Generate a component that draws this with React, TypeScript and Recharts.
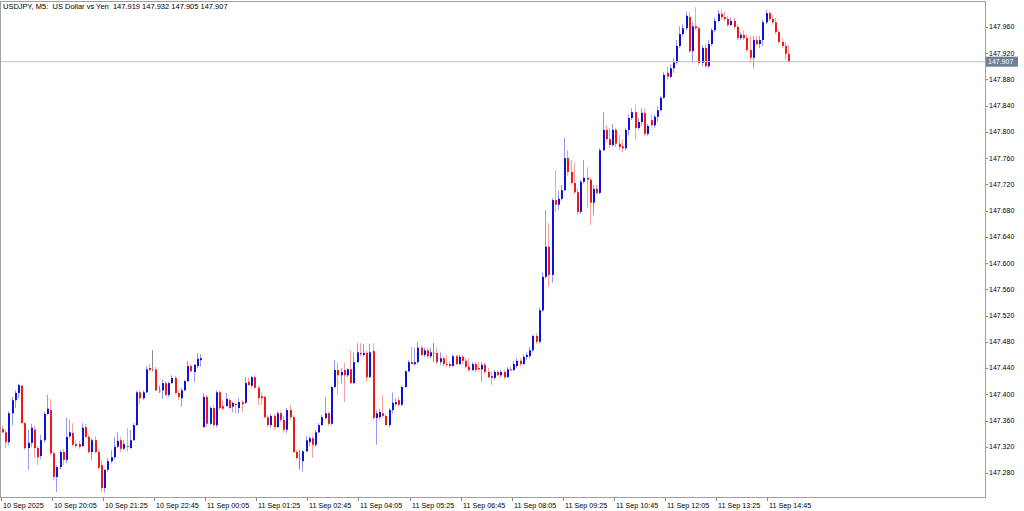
import { Bar, ComposedChart, ReferenceLine, XAxis, YAxis } from "recharts";

type Ohlc = [number, number, number, number];

// USDJPY M5, [open, high, low, close]
// 10 Sep 18:45 - 23:55
const eveningBars: Ohlc[] = [
  [147.347, 147.352, 147.341, 147.342],
  [147.342, 147.346, 147.318, 147.327],
  [147.327, 147.374, 147.323, 147.371],
  [147.371, 147.396, 147.353, 147.391],
  [147.391, 147.406, 147.379, 147.402],
  [147.402, 147.416, 147.394, 147.414],
  [147.413, 147.414, 147.355, 147.356],
  [147.356, 147.358, 147.315, 147.318],
  [147.318, 147.346, 147.285, 147.326],
  [147.326, 147.355, 147.32, 147.349],
  [147.346, 147.352, 147.303, 147.318],
  [147.318, 147.321, 147.292, 147.304],
  [147.306, 147.338, 147.301, 147.33],
  [147.33, 147.373, 147.326, 147.37],
  [147.37, 147.399, 147.368, 147.378],
  [147.376, 147.393, 147.307, 147.31],
  [147.31, 147.313, 147.269, 147.274],
  [147.274, 147.292, 147.251, 147.289],
  [147.289, 147.315, 147.285, 147.312],
  [147.312, 147.317, 147.292, 147.3],
  [147.3, 147.364, 147.295, 147.335],
  [147.336, 147.361, 147.333, 147.342],
  [147.341, 147.356, 147.321, 147.323],
  [147.324, 147.33, 147.318, 147.321],
  [147.324, 147.329, 147.317, 147.32],
  [147.321, 147.356, 147.32, 147.349],
  [147.35, 147.355, 147.333, 147.335],
  [147.335, 147.339, 147.31, 147.312],
  [147.312, 147.333, 147.3, 147.33],
  [147.33, 147.336, 147.31, 147.312],
  [147.312, 147.315, 147.285, 147.288],
  [147.292, 147.3, 147.251, 147.257],
  [147.257, 147.285, 147.25, 147.285],
  [147.285, 147.303, 147.282, 147.298],
  [147.298, 147.315, 147.295, 147.304],
  [147.304, 147.335, 147.301, 147.32],
  [147.32, 147.342, 147.318, 147.329],
  [147.33, 147.335, 147.312, 147.317],
  [147.317, 147.33, 147.315, 147.324],
  [147.321, 147.349, 147.313, 147.32],
  [147.318, 147.346, 147.317, 147.33],
  [147.33, 147.356, 147.329, 147.353],
  [147.353, 147.405, 147.352, 147.403],
  [147.403, 147.406, 147.384, 147.394],
  [147.394, 147.406, 147.391, 147.403],
  [147.403, 147.443, 147.402, 147.438],
  [147.44, 147.446, 147.434, 147.437],
  [147.438, 147.467, 147.435, 147.438],
  [147.438, 147.442, 147.405, 147.406],
  [147.406, 147.413, 147.402, 147.406],
  [147.406, 147.422, 147.393, 147.417],
  [147.417, 147.42, 147.397, 147.399],
  [147.399, 147.419, 147.396, 147.417],
  [147.417, 147.429, 147.416, 147.425],
  [147.425, 147.428, 147.4, 147.402],
  [147.402, 147.405, 147.391, 147.396],
  [147.394, 147.41, 147.381, 147.406],
  [147.406, 147.422, 147.405, 147.42],
  [147.42, 147.451, 147.419, 147.443],
  [147.443, 147.446, 147.434, 147.435],
  [147.434, 147.446, 147.419, 147.445],
  [147.443, 147.463, 147.44, 147.454],
  [147.452, 147.461, 147.442, 147.455],
];

// 11 Sep 00:00 - 05:20
const nightBars: Ohlc[] = [
  [147.35, 147.402, 147.349, 147.396],
  [147.396, 147.399, 147.35, 147.355],
  [147.355, 147.382, 147.353, 147.379],
  [147.379, 147.384, 147.349, 147.353],
  [147.353, 147.406, 147.35, 147.403],
  [147.403, 147.406, 147.376, 147.379],
  [147.382, 147.391, 147.376, 147.378],
  [147.382, 147.402, 147.381, 147.393],
  [147.391, 147.394, 147.378, 147.379],
  [147.381, 147.388, 147.373, 147.387],
  [147.385, 147.387, 147.371, 147.384],
  [147.379, 147.394, 147.371, 147.388],
  [147.388, 147.391, 147.373, 147.385],
  [147.387, 147.426, 147.385, 147.417],
  [147.419, 147.425, 147.413, 147.414],
  [147.413, 147.428, 147.411, 147.426],
  [147.426, 147.429, 147.408, 147.41],
  [147.41, 147.413, 147.384, 147.394],
  [147.397, 147.403, 147.384, 147.394],
  [147.396, 147.397, 147.364, 147.365],
  [147.365, 147.368, 147.35, 147.353],
  [147.353, 147.37, 147.349, 147.367],
  [147.367, 147.37, 147.346, 147.35],
  [147.35, 147.374, 147.349, 147.371],
  [147.371, 147.374, 147.358, 147.361],
  [147.361, 147.367, 147.342, 147.346],
  [147.346, 147.379, 147.341, 147.376],
  [147.376, 147.384, 147.361, 147.365],
  [147.365, 147.368, 147.31, 147.312],
  [147.312, 147.315, 147.3, 147.303],
  [147.303, 147.315, 147.285, 147.303],
  [147.298, 147.315, 147.282, 147.313],
  [147.313, 147.336, 147.312, 147.33],
  [147.327, 147.336, 147.32, 147.333],
  [147.333, 147.336, 147.303, 147.323],
  [147.323, 147.346, 147.32, 147.342],
  [147.342, 147.356, 147.341, 147.353],
  [147.353, 147.368, 147.352, 147.365],
  [147.364, 147.396, 147.361, 147.371],
  [147.371, 147.374, 147.352, 147.355],
  [147.355, 147.413, 147.353, 147.411],
  [147.411, 147.452, 147.41, 147.437],
  [147.437, 147.448, 147.399, 147.429],
  [147.429, 147.44, 147.417, 147.434],
  [147.437, 147.448, 147.388, 147.429],
  [147.429, 147.44, 147.426, 147.438],
  [147.438, 147.467, 147.416, 147.417],
  [147.417, 147.464, 147.416, 147.449],
  [147.449, 147.478, 147.448, 147.464],
  [147.463, 147.478, 147.458, 147.461],
  [147.46, 147.477, 147.457, 147.463],
  [147.463, 147.467, 147.419, 147.426],
  [147.426, 147.477, 147.425, 147.464],
  [147.466, 147.478, 147.361, 147.364],
  [147.364, 147.376, 147.323, 147.371],
  [147.365, 147.378, 147.362, 147.373],
  [147.371, 147.399, 147.364, 147.367],
  [147.367, 147.37, 147.352, 147.353],
  [147.353, 147.379, 147.35, 147.376],
  [147.376, 147.403, 147.371, 147.387],
  [147.385, 147.394, 147.382, 147.388],
  [147.391, 147.396, 147.381, 147.384],
  [147.384, 147.413, 147.382, 147.411],
  [147.411, 147.437, 147.41, 147.435],
  [147.435, 147.452, 147.434, 147.449],
];

// 11 Sep 05:25 - 08:30
const morningBars: Ohlc[] = [
  [147.449, 147.472, 147.446, 147.446],
  [147.446, 147.471, 147.443, 147.449],
  [147.449, 147.48, 147.446, 147.471],
  [147.471, 147.474, 147.458, 147.46],
  [147.46, 147.471, 147.457, 147.467],
  [147.467, 147.471, 147.455, 147.458],
  [147.458, 147.471, 147.455, 147.464],
  [147.463, 147.478, 147.449, 147.463],
  [147.463, 147.471, 147.446, 147.449],
  [147.449, 147.464, 147.445, 147.455],
  [147.455, 147.458, 147.443, 147.446],
  [147.446, 147.46, 147.442, 147.445],
  [147.446, 147.449, 147.44, 147.443],
  [147.443, 147.461, 147.442, 147.458],
  [147.458, 147.46, 147.445, 147.446],
  [147.446, 147.46, 147.445, 147.457],
  [147.457, 147.46, 147.446, 147.451],
  [147.451, 147.455, 147.44, 147.442],
  [147.442, 147.455, 147.434, 147.437],
  [147.437, 147.449, 147.435, 147.446],
  [147.446, 147.449, 147.434, 147.437],
  [147.44, 147.449, 147.437, 147.438],
  [147.438, 147.449, 147.419, 147.445],
  [147.445, 147.449, 147.431, 147.434],
  [147.434, 147.44, 147.425, 147.426],
  [147.428, 147.434, 147.414, 147.425],
  [147.425, 147.437, 147.422, 147.434],
  [147.434, 147.437, 147.428, 147.429],
  [147.429, 147.437, 147.426, 147.434],
  [147.434, 147.437, 147.423, 147.426],
  [147.426, 147.442, 147.425, 147.438],
  [147.438, 147.443, 147.435, 147.437],
  [147.437, 147.451, 147.435, 147.446],
  [147.443, 147.455, 147.44, 147.451],
  [147.451, 147.455, 147.443, 147.446],
  [147.446, 147.46, 147.445, 147.457],
  [147.457, 147.464, 147.452, 147.46],
  [147.458, 147.472, 147.455, 147.467],
];

// 11 Sep 08:35 - 12:15
const rallyBars: Ohlc[] = [
  [147.467, 147.49, 147.464, 147.489],
  [147.489, 147.493, 147.477, 147.48],
  [147.48, 147.532, 147.477, 147.528],
  [147.528, 147.586, 147.525, 147.579],
  [147.579, 147.681, 147.576, 147.625],
  [147.625, 147.661, 147.564, 147.582],
  [147.582, 147.699, 147.57, 147.696],
  [147.696, 147.742, 147.678, 147.689],
  [147.689, 147.711, 147.681, 147.698],
  [147.698, 147.719, 147.695, 147.711],
  [147.711, 147.791, 147.71, 147.76],
  [147.76, 147.772, 147.733, 147.739],
  [147.739, 147.757, 147.719, 147.722],
  [147.722, 147.753, 147.705, 147.708],
  [147.708, 147.714, 147.673, 147.678],
  [147.678, 147.727, 147.675, 147.724],
  [147.724, 147.757, 147.721, 147.73],
  [147.73, 147.746, 147.684, 147.727],
  [147.727, 147.73, 147.658, 147.692],
  [147.692, 147.719, 147.673, 147.713],
  [147.713, 147.719, 147.704, 147.707],
  [147.707, 147.775, 147.705, 147.772],
  [147.772, 147.83, 147.771, 147.803],
  [147.803, 147.81, 147.785, 147.789],
  [147.789, 147.806, 147.775, 147.78],
  [147.78, 147.812, 147.777, 147.803],
  [147.803, 147.806, 147.777, 147.782],
  [147.782, 147.795, 147.772, 147.777],
  [147.778, 147.788, 147.769, 147.775],
  [147.775, 147.806, 147.772, 147.803],
  [147.803, 147.826, 147.795, 147.821],
  [147.821, 147.836, 147.818, 147.83],
  [147.83, 147.841, 147.788, 147.806],
  [147.806, 147.821, 147.803, 147.815],
  [147.815, 147.836, 147.809, 147.829],
  [147.829, 147.836, 147.794, 147.797],
  [147.797, 147.812, 147.794, 147.809],
  [147.818, 147.827, 147.807, 147.81],
  [147.81, 147.826, 147.806, 147.823],
  [147.823, 147.839, 147.815, 147.833],
  [147.833, 147.855, 147.832, 147.852],
  [147.852, 147.891, 147.85, 147.887],
  [147.89, 147.9, 147.879, 147.884],
  [147.884, 147.903, 147.882, 147.897],
  [147.897, 147.913, 147.89, 147.906],
];

// 11 Sep 12:20 - 15:15
const middayBars: Ohlc[] = [
  [147.906, 147.94, 147.903, 147.931],
  [147.931, 147.961, 147.928, 147.949],
  [147.949, 147.964, 147.946, 147.958],
  [147.958, 147.983, 147.955, 147.977],
  [147.975, 147.983, 147.92, 147.923],
  [147.923, 147.967, 147.905, 147.961],
  [147.961, 147.99, 147.955, 147.958],
  [147.958, 147.961, 147.902, 147.905],
  [147.905, 147.932, 147.9, 147.928],
  [147.928, 147.934, 147.897, 147.9],
  [147.9, 147.94, 147.897, 147.934],
  [147.934, 147.958, 147.931, 147.955],
  [147.955, 147.974, 147.952, 147.969],
  [147.969, 147.986, 147.967, 147.98],
  [147.98, 147.987, 147.971, 147.975],
  [147.975, 147.983, 147.969, 147.972],
  [147.972, 147.977, 147.96, 147.963],
  [147.963, 147.974, 147.961, 147.969],
  [147.969, 147.974, 147.957, 147.96],
  [147.96, 147.964, 147.94, 147.943],
  [147.943, 147.952, 147.94, 147.948],
  [147.948, 147.955, 147.94, 147.943],
  [147.943, 147.949, 147.922, 147.925],
  [147.925, 147.946, 147.905, 147.913],
  [147.913, 147.946, 147.897, 147.94],
  [147.94, 147.946, 147.931, 147.934],
  [147.934, 147.946, 147.928, 147.94],
  [147.94, 147.971, 147.931, 147.967],
  [147.967, 147.986, 147.964, 147.981],
  [147.981, 147.984, 147.969, 147.972],
  [147.972, 147.978, 147.963, 147.967],
  [147.967, 147.974, 147.949, 147.952],
  [147.952, 147.955, 147.934, 147.937],
  [147.937, 147.943, 147.928, 147.931],
  [147.931, 147.937, 147.91, 147.919],
  [147.919, 147.932, 147.905, 147.907],
];

const priceTicks = [
  147.28, 147.32, 147.36, 147.4, 147.44, 147.48, 147.52, 147.56, 147.6,
  147.64, 147.68, 147.72, 147.76, 147.8, 147.84, 147.88, 147.92, 147.96,
];

const timeTickLabels = [
  "10 Sep 2025",
  "10 Sep 20:05",
  "10 Sep 21:25",
  "10 Sep 22:45",
  "11 Sep 00:05",
  "11 Sep 01:25",
  "11 Sep 02:45",
  "11 Sep 04:05",
  "11 Sep 05:25",
  "11 Sep 06:45",
  "11 Sep 08:05",
  "11 Sep 09:25",
  "11 Sep 10:45",
  "11 Sep 12:05",
  "11 Sep 13:25",
  "11 Sep 14:45",
];

const SYMBOL = "USDJPY";
const PERIOD = "M5";
const DESCRIPTION = "US Dollar vs Yen";

const FIRST_BAR_MINUTES = 18 * 60 + 45; // 10 Sep 18:45
const BARS_PER_LABEL = 16;
const EMPTY_SLOTS = 61; // chart shift on the right

const FONT = "'Liberation Sans', Arial, sans-serif";
const Y_DOMAIN: [number, number] = [147.2434, 147.9995];

const BULL = "#1010dc";
const BEAR = "#f21818";
const BULL_WICK = "#9898f0";
const BEAR_WICK = "#f8a0a0";
const FLAT = "#8c8c8c";

type Row = {
  t: string;
  open?: number;
  high?: number;
  low?: number;
  close?: number;
};

const barTime = (i: number) => {
  const total = FIRST_BAR_MINUTES + i * 5;
  const day = 10 + Math.floor(total / 1440);
  const m = total % 1440;
  const hh = String(Math.floor(m / 60)).padStart(2, "0");
  const mm = String(m % 60).padStart(2, "0");
  return `${day} Sep ${hh}:${mm}`;
};

const allBars = [
  ...eveningBars,
  ...nightBars,
  ...morningBars,
  ...rallyBars,
  ...middayBars,
];

const rows: Row[] = allBars.map(([open, high, low, close], i) => ({
  t: barTime(i),
  open,
  high,
  low,
  close,
}));
for (let k = 1; k <= EMPTY_SLOTS; k++) rows.push({ t: `+${k}` });

const tickText = new Map<string, string>(
  timeTickLabels.map((label, k) => [barTime(k * BARS_PER_LABEL), label])
);

const lastBar = allBars[allBars.length - 1];
const title = `${SYMBOL}, ${PERIOD}:  ${DESCRIPTION}  ${lastBar
  .map((v) => v.toFixed(3))
  .join(" ")}`;

const Candle = (props: any) => {
  const { x, y, width, height, payload } = props;
  if (!payload || payload.open == null || !Number.isFinite(y)) return <g />;
  const { open, high, low, close } = payload as Required<Row>;
  const top = Math.min(y, y + height);
  const span = Math.abs(height);
  const k = high > low ? span / (high - low) : 0;
  const bx = Math.round(x + width / 2) - 1;
  const bodyTop = top + (high - Math.max(open, close)) * k;
  const bodyH = Math.max(1, Math.abs(close - open) * k);
  const flat = open === close;
  const up = close > open;
  const body = flat ? FLAT : up ? BULL : BEAR;
  const wick = flat ? FLAT : up ? BULL_WICK : BEAR_WICK;
  return (
    <g>
      <rect x={bx} y={top} width={1} height={Math.max(span, 1)} fill={wick} />
      <rect x={bx} y={bodyTop} width={2} height={bodyH} fill={body} />
    </g>
  );
};

const TimeTick = ({ x, y, payload }: any) => {
  const label = tickText.get(payload?.value);
  if (!label) return <g />;
  const px = Math.round(x) - 1.5;
  return (
    <g>
      <line x1={px} x2={px} y1={y} y2={y + 4} stroke="#8a8a8a" />
      <text
        x={px + 1.5}
        y={y + 10.5}
        fontSize={7.2}
        fill="#000"
        style={{ fontFamily: FONT }}
      >
        {label}
      </text>
    </g>
  );
};

const PriceTick = ({ x, y, payload }: any) => {
  const ly = Math.round(y) + 0.5;
  return (
    <g>
      <line x1={x} x2={x + 3} y1={ly} y2={ly} stroke="#8a8a8a" />
      <text
        x={x + 4}
        y={y}
        dy="0.35em"
        fontSize={7}
        fill="#000"
        style={{ fontFamily: FONT }}
      >
        {Number(payload.value).toFixed(3)}
      </text>
    </g>
  );
};

const PriceTag = ({ viewBox }: any) => {
  if (!viewBox) return <g />;
  const x = viewBox.x + viewBox.width + 1;
  const y = viewBox.y;
  return (
    <g>
      <rect x={x} y={y - 5} width={32} height={10} fill="#6f8094" />
      <text
        x={x + 2}
        y={y}
        dy="0.35em"
        fontSize={7}
        fill="#fff"
        style={{ fontFamily: FONT }}
      >
        {lastBar[3].toFixed(3)}
      </text>
    </g>
  );
};

export default function App() {
  return (
    <div
      style={{
        position: "fixed",
        left: 0,
        top: 0,
        width: 1024,
        height: 511,
        background: "#fff",
      }}
    >
      <ComposedChart
        width={1024}
        height={511}
        data={rows}
        margin={{ top: 1, right: 0, bottom: 0, left: 1 }}
        barCategoryGap={0}
      >
        <XAxis
          dataKey="t"
          interval={0}
          height={14}
          axisLine={false}
          tickLine={false}
          tickSize={0}
          tickMargin={0}
          tick={(p: any) => <TimeTick {...p} />}
        />
        <YAxis
          orientation="right"
          type="number"
          width={39}
          domain={Y_DOMAIN}
          allowDataOverflow
          ticks={priceTicks}
          interval={0}
          axisLine={false}
          tickLine={false}
          tickSize={0}
          tickMargin={0}
          tick={(p: any) => <PriceTick {...p} />}
        />
        <ReferenceLine
          y={lastBar[3]}
          stroke="#c0c0c0"
          label={<PriceTag />}
        />
        <Bar
          dataKey={(r: Row) => (r.open == null ? null : [r.low, r.high])}
          barSize={2}
          shape={(p: any) => <Candle {...p} />}
          isAnimationActive={false}
        />
      </ComposedChart>
      <div
        style={{
          position: "absolute",
          left: 0,
          top: 1,
          width: 986,
          height: 497,
          boxSizing: "border-box",
          border: "1px solid #a0a0a0",
          pointerEvents: "none",
        }}
      />
      <div
        style={{
          position: "absolute",
          left: 3,
          top: 2,
          fontFamily: FONT,
          fontSize: 7.5,
          lineHeight: "10px",
          whiteSpace: "pre",
          color: "#000",
        }}
      >
        {title}
      </div>
    </div>
  );
}
